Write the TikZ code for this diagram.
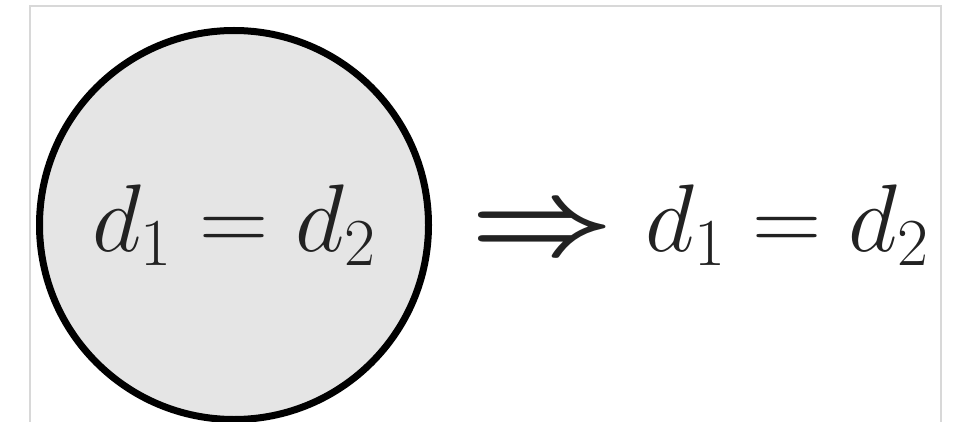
\RequirePackage{fix-cm}
\documentclass[tikz,border=0pt]{standalone}
\usepackage{amsmath}
\usepackage{bm}
\usepackage{graphicx}
\usetikzlibrary{positioning}
\definecolor{discfill}{HTML}{E5E5E5}
\definecolor{inkblack}{HTML}{222222}
\definecolor{framegray}{HTML}{D8D8D8}
\tikzset{
  eqdisc/.style={
    circle,
    draw=black,
    line width=3.5pt,
    fill=discfill,
    minimum size=194.5pt,
    inner sep=0pt,
    outer sep=0pt,
    text=inkblack,
    font=\fontsize{48}{56}\selectfont
  },
  eqtext/.style={
    inner sep=0pt,
    text=inkblack,
    font=\fontsize{48}{56}\selectfont
  },
  framebox/.style={draw=framegray,line width=0.6pt}
}
\begin{document}
\begin{tikzpicture}[x=1pt,y=-1pt,node distance=22pt]
\useasboundingbox (0,0) rectangle (483.5,211);
\draw[framebox] (15,3) rectangle (470.5,216);
\node[eqdisc] (lhs) at (117,112.5) {$d_1 = d_2$};
\node[eqtext,right=21pt of lhs,yshift=-4pt] (implies) {\scalebox{1.3}[1.1]{$\bm{\Rightarrow}$}};
\node[eqtext,right=15pt of implies,yshift=4pt] (rhs) {$d_1 = d_2$};
\end{tikzpicture}
\end{document}
